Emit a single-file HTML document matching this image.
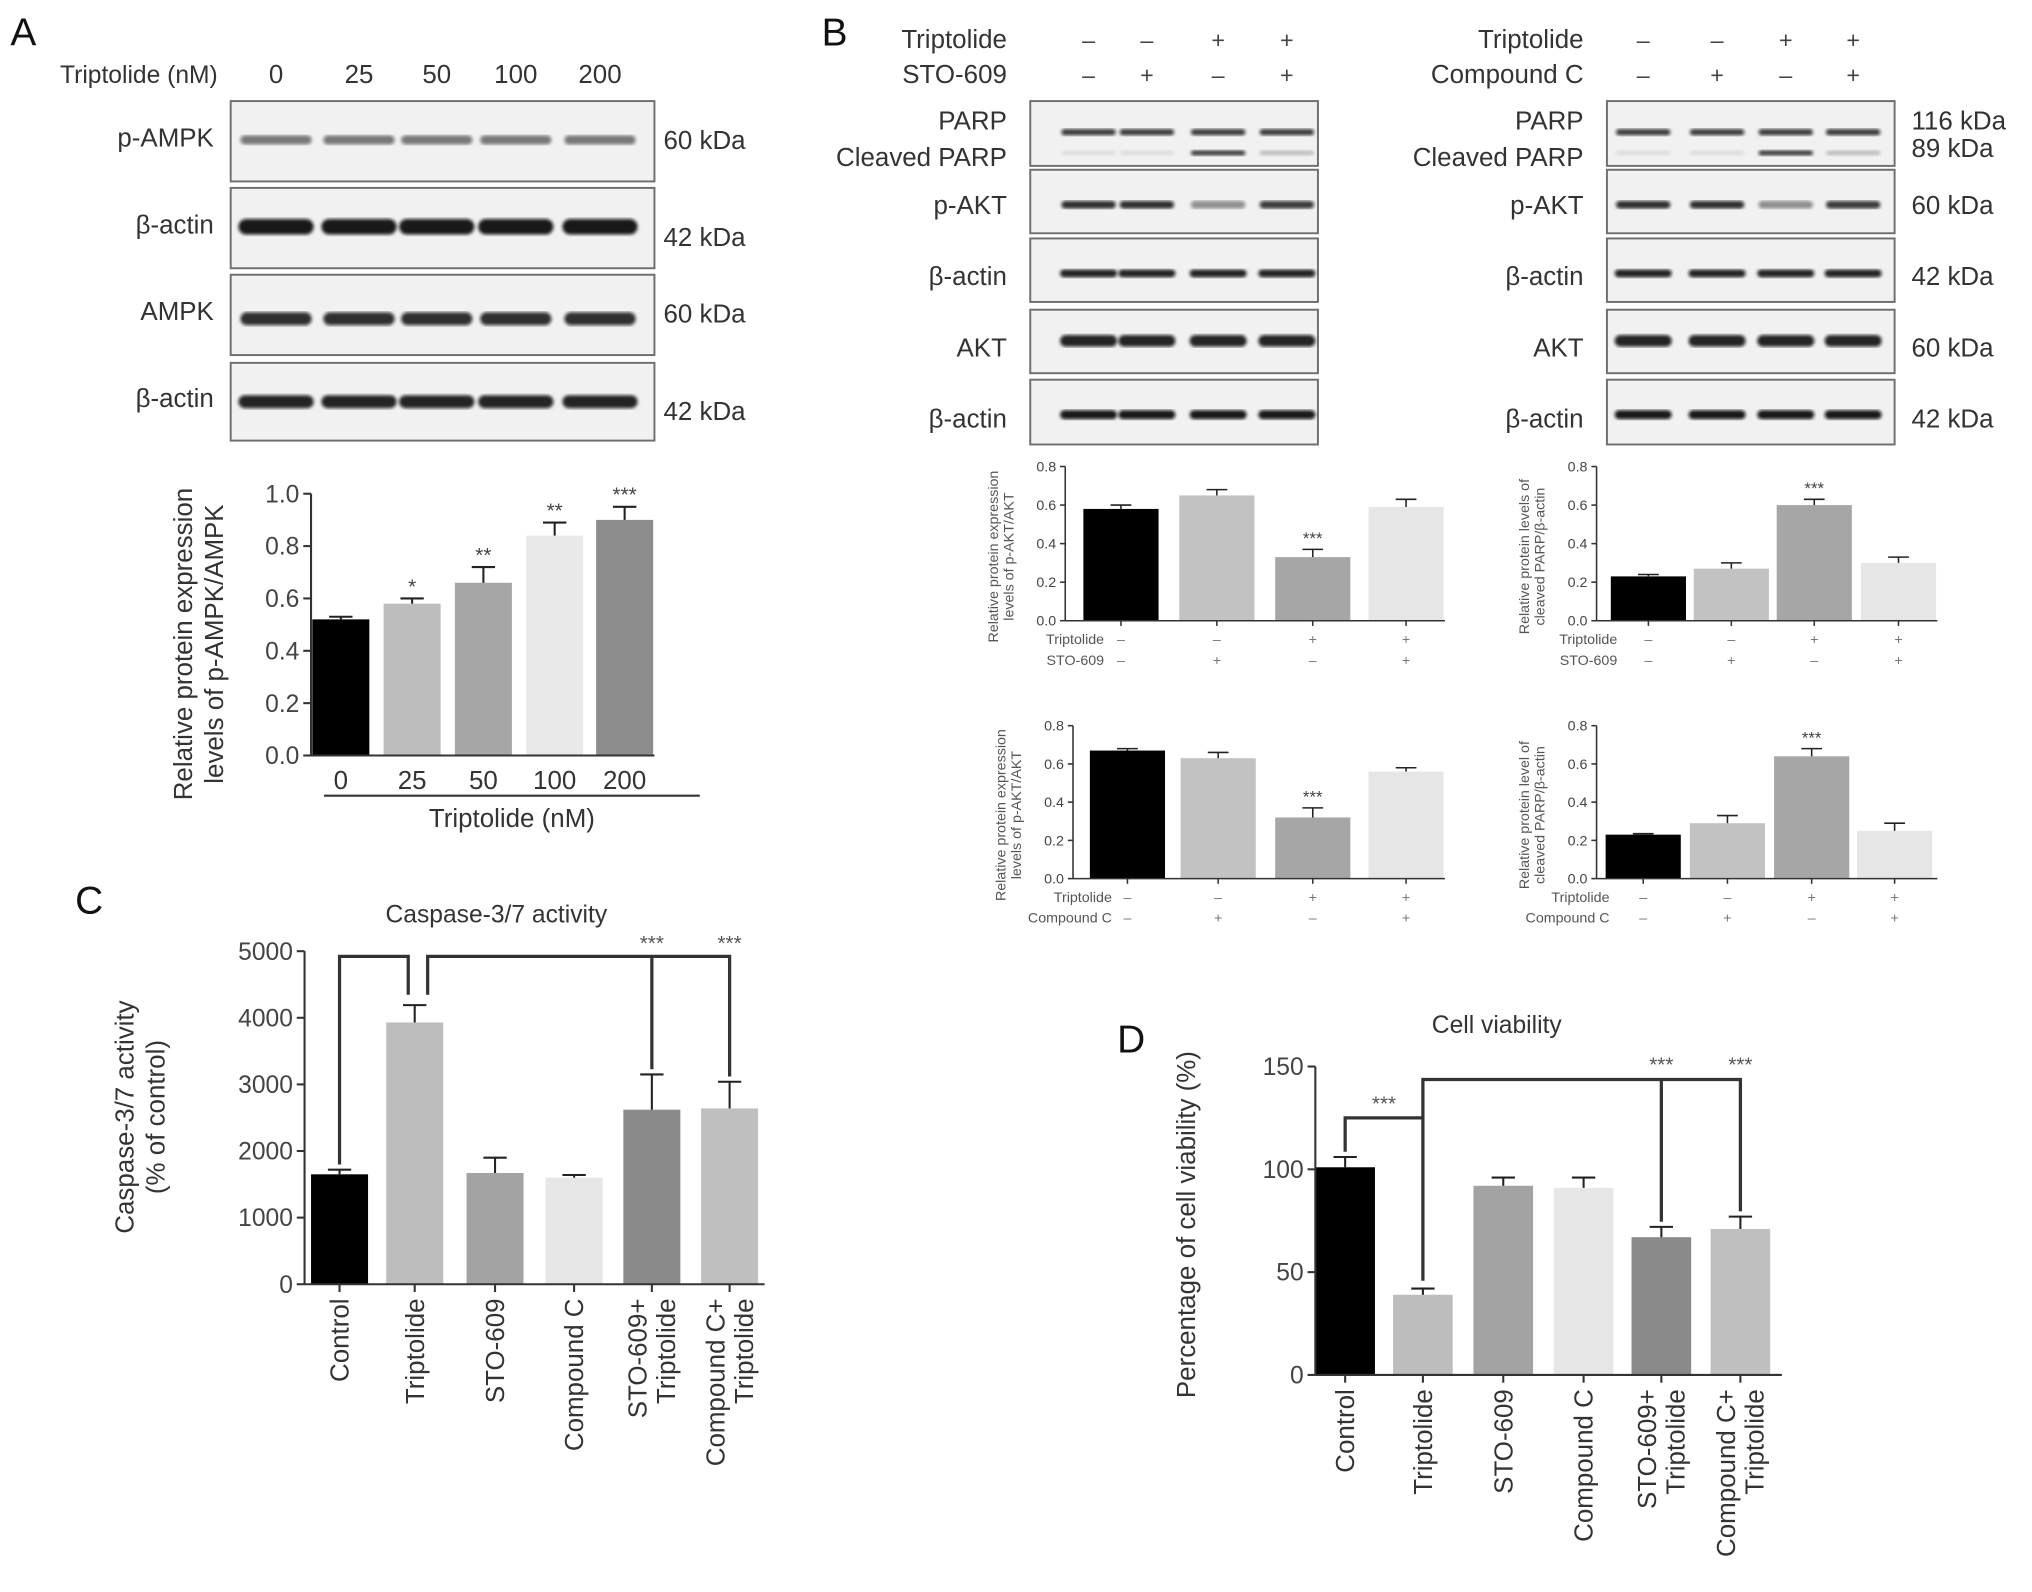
<!DOCTYPE html>
<html><head><meta charset="utf-8"><style>
html,body{margin:0;padding:0;background:#fff;}
svg{display:block;font-family:"Liberation Sans",Arial,sans-serif;}
</style></head><body>
<svg id="fig" width="2032" height="1592" viewBox="0 0 1568 1228.5" xmlns="http://www.w3.org/2000/svg">
<defs>
<filter id="blur1"><feGaussianBlur stdDeviation="1.2"/></filter>
</defs>
<g id="root"></g>
</svg>
<script>
// ---------- Data ----------
const aCats = ["0","25","50","100","200"];
const aVals = [0.52,0.58,0.66,0.84,0.90];
const aErrs = [0.01,0.02,0.06,0.05,0.05];
const aStars = ["","*","**","**","***"];
const aTicks = [0.0,0.2,0.4,0.6,0.8,1.0];

const b1Vals = [0.58,0.65,0.33,0.59];
const b1Errs = [0.02,0.03,0.04,0.04];
const b2Vals = [0.23,0.27,0.60,0.30];
const b2Errs = [0.01,0.03,0.03,0.03];
const b3Vals = [0.67,0.63,0.32,0.56];
const b3Errs = [0.01,0.03,0.05,0.02];
const b4Vals = [0.23,0.29,0.64,0.25];
const b4Errs = [0.005,0.04,0.04,0.04];
const bStars = ["","","***",""];
const bTicks = [0.0,0.2,0.4,0.6,0.8];
const tripRow = ["\u2013","\u2013","+","+"];
const drugRow = ["\u2013","+","\u2013","+"];

const cdCats = ["Control","Triptolide","STO-609","Compound C","STO-609+|Triptolide","Compound C+|Triptolide"];
const cVals = [1650,3930,1670,1600,2620,2640];
const cErrs = [70,260,230,40,530,400];
const cTicks = [0,1000,2000,3000,4000,5000];
const dVals = [101,39,92,91,67,71];
const dErrs = [5,3,4,5,5,6];
const dTicks = [0,50,100,150];
const cdColors = ["#000","#bdbdbd","#a3a3a3","#e6e6e6","#8a8a8a","#bfbfbf"];

// ---------- Helpers ----------
const NS="http://www.w3.org/2000/svg";
const root=document.getElementById('root');
function el(tag,attrs,parent,text){const e=document.createElementNS(NS,tag);for(const k in attrs)e.setAttribute(k,attrs[k]);if(text!==undefined)e.textContent=text;(parent||root).appendChild(e);return e;}
function txt(x,y,s,size,anchor,parent,fill,extra){const t=el('text',Object.assign({x:x,y:y,'font-size':size,'text-anchor':anchor||'start',fill:fill||'#333'},extra||{}),parent,s);return t;}

function barChart(o){
  const g=el('g',{});
  
  
  const ys=v=>o.y0-(v-o.vmin)/(o.vmax-o.vmin)*(o.y0-o.y1);
  o.vals.forEach((v,i)=>{
    const cx=o.xs[i];
    const b=el('rect',{x:cx-o.bw/2,y:ys(v),width:o.bw,height:o.y0-ys(v),fill:o.colors[i]},g);
    
    
    const ye=ys(v+o.errs[i]);
    el('line',{x1:cx,x2:cx,y1:ys(v),y2:ye,stroke:'#222','stroke-width':o.sw},g);
    el('line',{x1:cx-o.cap,x2:cx+o.cap,y1:ye,y2:ye,stroke:'#222','stroke-width':o.sw},g);
    if(o.stars&&o.stars[i]) txt(cx,ye-4,o.stars[i],o.starSize,'middle',g,'#444');
  });
  el('line',{x1:o.ax,x2:o.ax,y1:o.y0,y2:o.y1,stroke:'#333','stroke-width':o.sw},g);
  el('line',{x1:o.ax,x2:o.xend,y1:o.y0,y2:o.y0,stroke:'#333','stroke-width':o.sw},g);
  o.ticks.forEach(t=>{
    const y=ys(t);
    el('line',{x1:o.ax-o.tl,x2:o.ax,y1:y,y2:y,stroke:'#333','stroke-width':o.sw},g);
    txt(o.ax-o.tl-3,y+o.fs*0.35,o.fmt(t),o.fs,'end',g,'#444');
  });
  if(o.xticks) o.xs.forEach(x=>el('line',{x1:x,x2:x,y1:o.y0,y2:o.y0+o.tl,stroke:'#333','stroke-width':o.sw},g));
  return {g,ys};
}

// ---------- Panel labels ----------
[["A",8,35],["B",634,35],["C",58,705],["D",862,812]].forEach(p=>{
  const t=txt(p[1],p[2],p[0],30,'start',null,'#111');
  
  
});

// ---------- Blots ----------
function blot(x,y,w,h,lanes,bands,name){
  const g=el('g',{});
  
  
  el('rect',{x:x,y:y,width:w,height:h,fill:'#f1f1f1',stroke:'#6e6e6e','stroke-width':1.5},g);
  bands.forEach(b=>{
    lanes.forEach((lx,i)=>{
      const th=b.th[i]!==undefined?b.th[i]:b.th[0];
      const op=b.op[i]!==undefined?b.op[i]:b.op[0];
      if(op>0) el('rect',{x:lx-b.w/2,y:y+b.dy-th/2,width:b.w,height:th,rx:th/2,fill:'#111','fill-opacity':op,filter:'url(#blur1)'},g);
    });
  });
}
const laneA=[213,277,337,398,463];
const rowsA=[[78,140,'p-AMPK',{dy:30,th:[7],op:[0.55],w:55}],[145,207,'\u03b2-actin',{dy:30,th:[12],op:[0.95],w:58}],[212,274,'AMPK',{dy:34,th:[10],op:[0.85],w:55}],[280,340,'\u03b2-actin',{dy:30,th:[10],op:[0.9],w:58}]];
const kdA=['60 kDa','42 kDa','60 kDa','42 kDa'];
txt(168,64,'Triptolide (nM)',19,'end',null,'#333');
aCats.forEach((c,i)=>txt(laneA[i],64,c,20,'middle',null,'#333'));
rowsA.forEach((r,i)=>{
  blot(178,r[0],327,r[1]-r[0],laneA,[r[3]],'blot-a-'+i);
  txt(165,(r[0]+r[1])/2+4,r[2],20,'end',null,'#333');
  txt(512,(r[0]+r[1])/2+(i%2?8:0)+6,kdA[i],20,'start',null,'#333');
});

function blotSet(x0,lanes,drugName,kd,prefix){
  txt(x0-18,37,'Triptolide',20,'end',null,'#333');
  txt(x0-18,64,drugName,20,'end',null,'#333');
  tripRow.forEach((s,i)=>txt(lanes[i],37,s,18,'middle',null,'#444'));
  drugRow.forEach((s,i)=>txt(lanes[i],64,s,18,'middle',null,'#444'));
  const w=222;
  const rows=[[78,128,[{dy:24,th:[5],op:[0.8],w:42},{dy:40,th:[4],op:[0.08,0.08,0.8,0.2],w:42}]],
              [131,180,[{dy:27,th:[6],op:[0.85,0.85,0.45,0.8],w:42}]],
              [184,233,[{dy:27,th:[6],op:[0.9],w:44}]],
              [239,288,[{dy:24,th:[9],op:[0.9],w:44}]],
              [293,343,[{dy:27,th:[7],op:[0.95],w:44}]]];
  rows.forEach((r,i)=>blot(x0,r[0],w,r[1]-r[0],lanes,r[2],prefix+'-blot-'+i));
  txt(x0-18,100,'PARP',20,'end',null,'#333');
  txt(x0-18,128,'Cleaved PARP',20,'end',null,'#333');
  txt(x0-18,165,'p-AKT',20,'end',null,'#333');
  txt(x0-18,220,'\u03b2-actin',20,'end',null,'#333');
  txt(x0-18,275,'AKT',20,'end',null,'#333');
  txt(x0-18,330,'\u03b2-actin',20,'end',null,'#333');
  if(kd){[['116 kDa',100],['89 kDa',121],['60 kDa',165],['42 kDa',220],['60 kDa',275],['42 kDa',330]].forEach(k=>txt(1475,k[1],k[0],20,'start',null,'#333'));}
}
blotSet(795,[840,885,940,993],'STO-609',false,'b-left');
blotSet(1240,[1268,1325,1378,1430],'Compound C',true,'b-right');

// ---------- Panel A chart ----------
barChart({name:'chart-a',vals:aVals,errs:aErrs,stars:aStars,cats:aCats,xs:[263,318,373,428,482],bw:44,
  colors:['#000','#bdbdbd','#a6a6a6','#e9e9e9','#8c8c8c'],ax:240,y0:583,y1:381,vmin:0,vmax:1,xend:505,
  ticks:aTicks,fmt:t=>t.toFixed(1),fs:19,tl:6,sw:1.6,cap:9,starSize:16,xticks:false});
aCats.forEach((c,i)=>txt([263,318,373,428,482][i],609,c,20,'middle',null,'#333'));
el('line',{x1:250,x2:540,y1:614,y2:614,stroke:'#333','stroke-width':1.6});
txt(395,638,'Triptolide (nM)',20,'middle',null,'#333');
txt(0,0,'Relative protein expression',20,'middle',null,'#333',{transform:'translate(148,497) rotate(-90)'});
txt(0,0,'levels of p-AMPK/AMPK',20,'middle',null,'#333',{transform:'translate(172,497) rotate(-90)'});

// ---------- Panel B small charts ----------
const bColors=['#000','#c2c2c2','#a6a6a6','#e6e6e6'];
function smallChart(name,vals,errs,xs,ax,y0,y1,xend,title1,title2,drug,labX){
  barChart({name:name,vals:vals,errs:errs,stars:bStars,xs:xs,bw:58,colors:bColors,ax:ax,y0:y0,y1:y1,vmin:0,vmax:0.8,xend:xend,
    ticks:bTicks,fmt:t=>t.toFixed(1),fs:11,tl:4,sw:1.2,cap:8,starSize:13,xticks:true});
  txt(labX,y0+18,'Triptolide',11,'end',null,'#555');
  txt(labX,y0+34,drug,11,'end',null,'#555');
  tripRow.forEach((s,i)=>txt(xs[i],y0+18,s,11,'middle',null,'#777'));
  drugRow.forEach((s,i)=>txt(xs[i],y0+34,s,11,'middle',null,'#777'));
  const cy=(y0+y1)/2+10;
  txt(0,0,title1,11,'middle',null,'#555',{transform:`translate(${ax-52},${cy}) rotate(-90)`});
  txt(0,0,title2,11,'middle',null,'#555',{transform:`translate(${ax-40},${cy}) rotate(-90)`});
}
smallChart('chart-b-akt-sto',b1Vals,b1Errs,[865,939,1013,1085],822,479,360,1115,'Relative protein expression','levels of p-AKT/AKT','STO-609',852);
smallChart('chart-b-parp-sto',b2Vals,b2Errs,[1272,1336,1400,1465],1232,479,360,1495,'Relative protein levels of','cleaved PARP/\u03b2-actin','STO-609',1248);
smallChart('chart-b-akt-cc',b3Vals,b3Errs,[870,940,1013,1085],828,678,560,1115,'Relative protein expression','levels of p-AKT/AKT','Compound C',858);
smallChart('chart-b-parp-cc',b4Vals,b4Errs,[1268,1333,1398,1462],1232,678,560,1495,'Relative protein level of','cleaved PARP/\u03b2-actin','Compound C',1242);

// ---------- Panel C ----------
const cXs=[262,320,382,443,503,563];
const C=barChart({name:'chart-c',vals:cVals,errs:cErrs,cats:cdCats,xs:cXs,bw:44,colors:cdColors,ax:235,y0:991,y1:734,vmin:0,vmax:5000,xend:590,
  ticks:cTicks,fmt:t=>String(t),fs:19,tl:6,sw:1.6,cap:9,xticks:true});
txt(383,712,'Caspase-3/7 activity',19,'middle',null,'#333');
txt(0,0,'Caspase-3/7 activity',20,'middle',null,'#333',{transform:'translate(103,862) rotate(-90)'});
txt(0,0,'(% of control)',20,'middle',null,'#333',{transform:'translate(127,862) rotate(-90)'});
function rotLabels(xs,yTop,size){
  cdCats.forEach((c,i)=>{
    const parts=c.split('|');
    parts.forEach((p,j)=>{
      const off=(j-(parts.length-1)/2)*22;
      txt(0,0,p,size,'end',null,'#333',{transform:`translate(${xs[i]+7+off},${yTop}) rotate(-90)`});
    });
  });
}
rotLabels(cXs,1002,20);
const bc='#333';
const cTop=C.ys(5000)+4;
el('polyline',{points:`${cXs[0]},${C.ys(cVals[0]+cErrs[0])-4} ${cXs[0]},${cTop} ${cXs[1]-5},${cTop} ${cXs[1]-5},${C.ys(cVals[1]+cErrs[1])-8}`,fill:'none',stroke:bc,'stroke-width':2.5});
el('polyline',{points:`${cXs[1]+10},${C.ys(cVals[1]+cErrs[1])-8} ${cXs[1]+10},${cTop} ${cXs[5]},${cTop} ${cXs[5]},${C.ys(cVals[5]+cErrs[5])-4}`,fill:'none',stroke:bc,'stroke-width':2.5});
el('line',{x1:cXs[4],x2:cXs[4],y1:cTop,y2:C.ys(cVals[4]+cErrs[4])-4,stroke:bc,'stroke-width':2.5});
txt(cXs[4],733,'***',16,'middle',null,'#555');
txt(cXs[5],733,'***',16,'middle',null,'#555');

// ---------- Panel D ----------
const dXs=[1038,1098,1160,1222,1282,1343];
const D=barChart({name:'chart-d',vals:dVals,errs:dErrs,cats:cdCats,xs:dXs,bw:46,colors:cdColors,ax:1015,y0:1061,y1:823,vmin:0,vmax:150,xend:1375,
  ticks:dTicks,fmt:t=>String(t),fs:19,tl:6,sw:1.6,cap:9,xticks:true});
txt(1155,797,'Cell viability',19,'middle',null,'#333');
txt(0,0,'Percentage of cell viability (%)',20,'middle',null,'#333',{transform:'translate(922,945) rotate(-90)'});
rotLabels(dXs,1072,20);
const dTop=D.ys(150)+10;
el('polyline',{points:`${dXs[0]},${D.ys(dVals[0]+dErrs[0])-4} ${dXs[0]},${D.ys(125)} ${dXs[1]},${D.ys(125)}`,fill:'none',stroke:bc,'stroke-width':2.5});
el('polyline',{points:`${dXs[1]},${D.ys(dVals[1]+dErrs[1])-6} ${dXs[1]},${dTop} ${dXs[5]},${dTop} ${dXs[5]},${D.ys(dVals[5]+dErrs[5])-4}`,fill:'none',stroke:bc,'stroke-width':2.5});
el('line',{x1:dXs[4],x2:dXs[4],y1:dTop,y2:D.ys(dVals[4]+dErrs[4])-4,stroke:bc,'stroke-width':2.5});
txt(1068,857,'***',16,'middle',null,'#555');
txt(dXs[4],827,'***',16,'middle',null,'#555');
txt(dXs[5],827,'***',16,'middle',null,'#555');
</script>
</body></html>
